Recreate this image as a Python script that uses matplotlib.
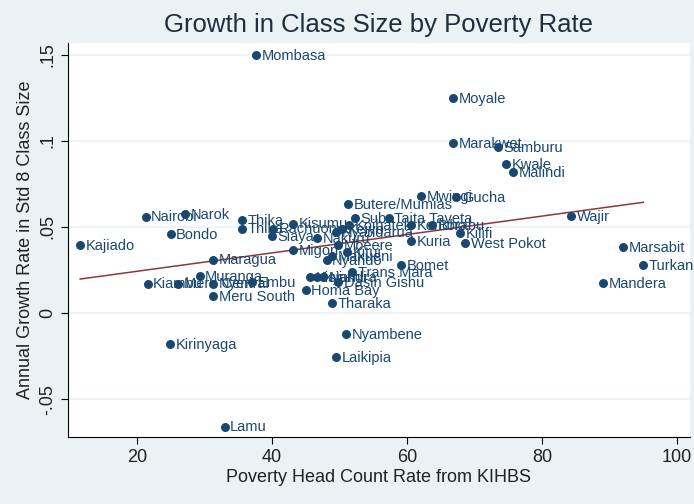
import matplotlib
matplotlib.use("Agg")
import matplotlib.pyplot as plt
import numpy as np

#%% data

districts = ["Kajiado", "Nairobi", "Narok", "Bondo", "Kiambu", "Meru Central",
             "Nyeri", "Muranga", "Maragua", "Meru South", "Embu", "Kirinyaga",
             "Lamu", "Mombasa", "Thika", "Thika", "Rachuonyo", "Kisumu", "Siaya",
             "Migori", "Nakuru", "Nyandarua", "Koibatek", "Butere/Mumias", "Suba",
             "Taita Taveta", "Keiyo", "Mbeere", "Kitui", "Nyando", "Makueni",
             "Borabu", "Kericho", "Kuria", "Bomet", "Trans Mara", "Dasin Gishu",
             "Kisii", "Nyamira", "Nandi", "Homa Bay", "Tharaka", "Nyambene",
             "Laikipia", "Mwingi", "Gucha", "Moyale", "Marakwet", "Samburu",
             "Kwale", "Malindi", "Kilifi", "West Pokot", "Wajir", "Marsabit",
             "Turkana", "Mandera"]

poverty = [11.6, 21.3, 27.1, 25.0, 21.6, 26.1,
           31.3, 29.3, 31.3, 31.3, 37.1, 24.9,
           33.0, 37.6, 35.6, 35.6, 40.2, 43.1, 40.0,
           43.1, 46.7, 49.5, 51.4, 51.3, 52.3,
           57.3, 50.4, 49.8, 51.1, 48.1, 48.9,
           63.7, 60.6, 60.6, 59.1, 51.9, 49.8,
           45.6, 46.7, 47.6, 45.0, 48.9, 51.0,
           49.5, 62.1, 67.3, 66.8, 66.8, 73.5,
           74.7, 75.7, 67.9, 68.6, 84.3, 92.0,
           95.0, 89.0]

growth = [0.0395, 0.056, 0.0575, 0.046, 0.017, 0.017,
          0.017, 0.0215, 0.031, 0.010, 0.018, -0.018,
          -0.066, 0.150, 0.054, 0.049, 0.049, 0.052, 0.0448,
          0.0366, 0.0436, 0.047, 0.051, 0.0634, 0.0552,
          0.0552, 0.0488, 0.0395, 0.0355, 0.0308, 0.0331,
          0.0512, 0.0512, 0.0419, 0.0279, 0.0238, 0.018,
          0.0209, 0.0209, 0.0209, 0.0134, 0.0058, -0.0122,
          -0.0256, 0.068, 0.0674, 0.125, 0.0988, 0.0965,
          0.0866, 0.082, 0.0465, 0.0407, 0.0564, 0.0384,
          0.0279, 0.0174]

xticks = [20, 40, 60, 80, 100]
yticks = [-0.05, 0, 0.05, 0.1, 0.15]
yticklabels = ["-.05", "0", ".05", ".1", ".15"]

#%% plot

plt.rcParams['font.family'] = ['Liberation Sans', 'DejaVu Sans']
navy = '#1a476f'
bg = '#eaf2f3'

fig = plt.figure(figsize=(6.94, 5.04), dpi=100, facecolor=bg)
ax = fig.add_axes([0.098, 0.133, 0.896, 0.782])
ax.set_facecolor('white')

ax.scatter(poverty, growth, s=42, color=navy, zorder=3, linewidths=0)
for name, x, y in zip(districts, poverty, growth):
    ax.annotate(name, (x, y), xytext=(4, -0.5), textcoords='offset points',
                va='center', ha='left', fontsize=10.5, color=navy, zorder=4)

# linear fit
b, a = np.polyfit(poverty, growth, 1)
xs = np.array([min(poverty), max(poverty)])
ax.plot(xs, a + b * xs, color='#90353b', lw=1.1, zorder=2)

ax.set_xlim(9.8, 101.9)
ax.set_ylim(-0.072, 0.157)
ax.set_xticks(xticks)
ax.set_yticks(yticks)
ax.set_yticklabels(yticklabels, rotation=90, va='center')
ax.tick_params(labelsize=13, colors='black', length=5, width=0.8)
ax.tick_params(axis='both', labelcolor='#222222')
ax.grid(axis='y', color=bg, lw=1.2, zorder=0)
ax.set_axisbelow(True)
for s in ['top', 'right']:
    ax.spines[s].set_visible(False)
for s in ['left', 'bottom']:
    ax.spines[s].set_color('black')
    ax.spines[s].set_linewidth(0.8)

ax.set_xlabel("Poverty Head Count Rate from KIHBS", fontsize=13, color='#222222', labelpad=2)
ax.set_ylabel("Annual Growth Rate in Std 8 Class Size", fontsize=13, color='#222222', labelpad=4)
ax.set_title("Growth in Class Size by Poverty Rate", fontsize=18.5, color='#1e2d3f', pad=8)

fig.savefig('out.png', dpi=100, facecolor=bg)
